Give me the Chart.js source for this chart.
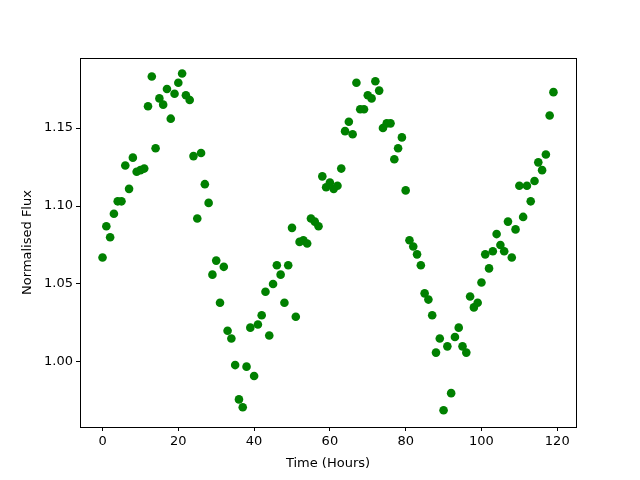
<!DOCTYPE html>
<html>
<head>
<meta charset="utf-8">
<script src="https://cdn.jsdelivr.net/npm/chart.js@4/dist/chart.umd.min.js"></script>
<style>
  html, body { margin: 0; padding: 0; background: #fff; }
  #wrap { width: 640px; height: 480px; }
</style>
</head>
<body>
<div id="wrap"><canvas id="fluxChart" width="640" height="480"></canvas></div>
<script>
// hours 0..119, one reading per hour
const hours = [];
for (let h = 0; h < 120; h++) hours.push(h);

const flux = [
  1.067, 1.087, 1.080, 1.095, 1.103, 1.103, 1.126, 1.111, 1.131, 1.122,
  1.123, 1.124, 1.164, 1.183, 1.137, 1.169, 1.165, 1.175, 1.156, 1.172,
  1.179, 1.185, 1.171, 1.168, 1.132, 1.092, 1.134, 1.114, 1.102, 1.056,
  1.065, 1.038, 1.061, 1.020, 1.015, 0.998, 0.976, 0.971, 0.997, 1.022,
  0.991, 1.024, 1.030, 1.045, 1.017, 1.050, 1.062, 1.056, 1.038, 1.062,
  1.086, 1.029, 1.077, 1.078, 1.076, 1.092, 1.090, 1.087, 1.119, 1.112,
  1.115, 1.111, 1.113, 1.124, 1.148, 1.154, 1.146, 1.179, 1.162, 1.162,
  1.171, 1.169, 1.180, 1.174, 1.150, 1.153, 1.153, 1.130, 1.137, 1.144,
  1.110, 1.078, 1.074, 1.069, 1.062, 1.044, 1.040, 1.030, 1.006, 1.015,
  0.969, 1.010, 0.980, 1.016, 1.022, 1.010, 1.006, 1.042, 1.035, 1.038,
  1.051, 1.069, 1.060, 1.071, 1.082, 1.075, 1.071, 1.090, 1.067, 1.085,
  1.113, 1.093, 1.113, 1.103, 1.116, 1.128, 1.123, 1.133, 1.158, 1.173
];

const xTicks = [0, 20, 40, 60, 80, 100, 120];
const yTicks = [1.00, 1.05, 1.10, 1.15];

const points = hours.map((h, i) => ({ x: h, y: flux[i] }));

// matplotlib style box around the plot
const boxPlugin = {
  id: 'box',
  afterDraw(chart) {
    const a = chart.chartArea;
    const c = chart.ctx;
    c.save();
    c.strokeStyle = '#000';
    c.lineWidth = 1;
    c.strokeRect(Math.round(a.left) + 0.5, Math.round(a.top) + 0.5,
                 Math.round(a.right - a.left), Math.round(a.bottom - a.top));
    c.restore();
  }
};

const font = { family: 'DejaVu Sans', size: 13 };

new Chart(document.getElementById('fluxChart').getContext('2d'), {
  type: 'scatter',
  data: {
    datasets: [{
      data: points,
      backgroundColor: '#008000',
      borderColor: '#008000',
      borderWidth: 0,
      pointRadius: 4.3,
      pointHoverRadius: 4.3
    }]
  },
  options: {
    responsive: false,
    animation: false,
    events: [],
    layout: { padding: { left: 20, top: 58, right: 64, bottom: 9 } },
    plugins: { legend: { display: false }, tooltip: { enabled: false } },
    scales: {
      x: {
        type: 'linear',
        min: -5.95,
        max: 124.95,
        afterBuildTicks: s => { s.ticks = xTicks.map(v => ({ value: v })); },
        afterFit: s => { s.height = 44; },
        grid: { display: true, drawOnChartArea: false, tickLength: 4, tickColor: '#000', color: '#000' },
        border: { display: false },
        ticks: { color: '#000', font, padding: 3, maxRotation: 0 },
        title: { display: true, text: 'Time (Hours)', color: '#000', font, padding: { top: 2, bottom: 0 } }
      },
      y: {
        type: 'linear',
        min: 0.9583,
        max: 1.1949,
        afterBuildTicks: s => { s.ticks = yTicks.map(v => ({ value: v })); },
        afterFit: s => { s.width = 60; },
        grid: { display: true, drawOnChartArea: false, tickLength: 4, tickColor: '#000', color: '#000' },
        border: { display: false },
        ticks: { color: '#000', font, padding: 3, callback: v => v.toFixed(2) },
        title: { display: true, text: 'Normalised Flux', color: '#000', font, padding: { top: 0, bottom: 0 } }
      }
    }
  },
  plugins: [boxPlugin]
});
</script>
</body>
</html>
